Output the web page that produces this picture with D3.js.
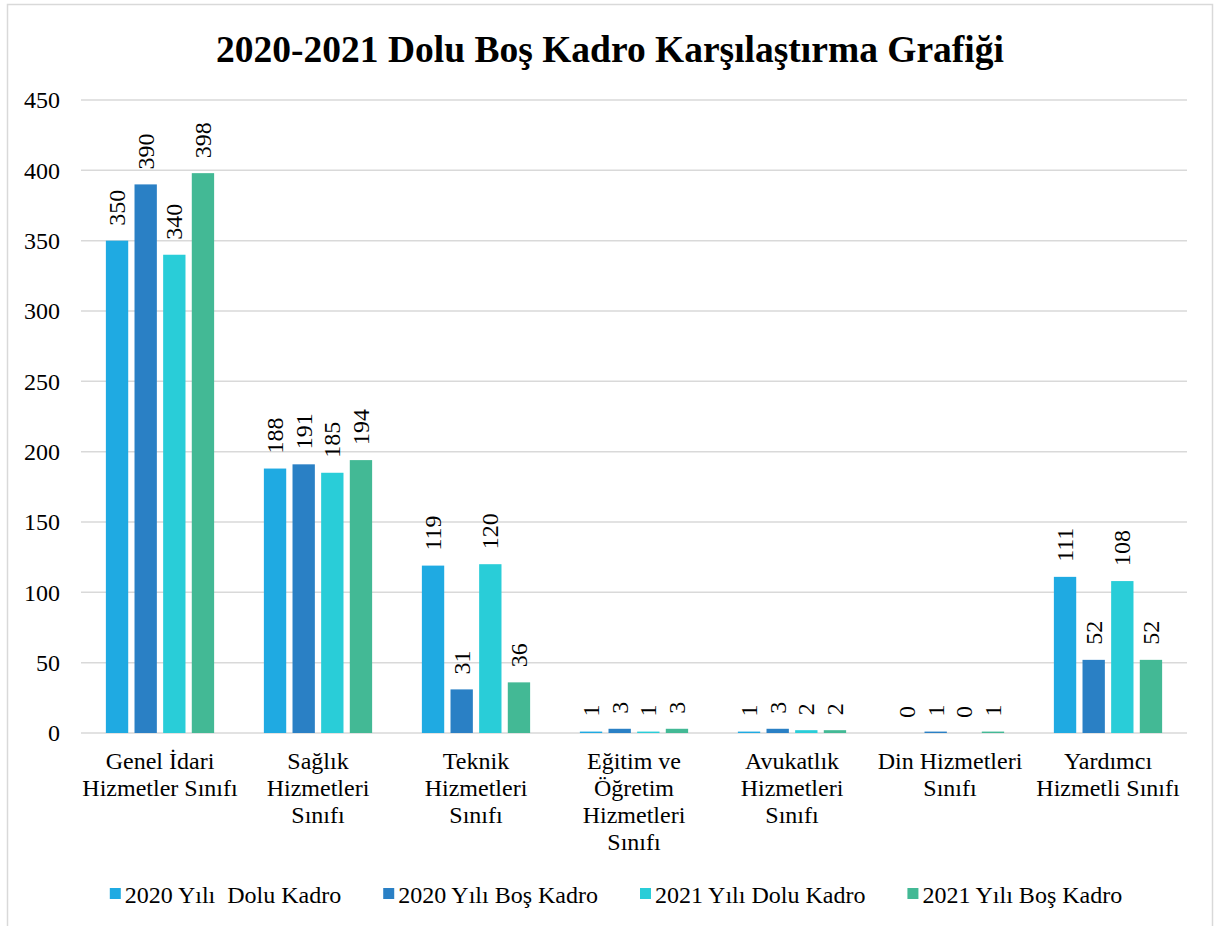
<!DOCTYPE html>
<html>
<head>
<meta charset="utf-8">
<script src="https://cdn.jsdelivr.net/npm/d3@7"></script>
<style>
  body { margin: 0; background: #fff; }
  text { font-family: "Liberation Serif", "Times New Roman", serif; fill: #000; }
</style>
</head>
<body>
<svg id="chart" width="1217" height="926"></svg>
<script>
// chart data
const categories = [
  ['Genel İdari', 'Hizmetler Sınıfı'],
  ['Sağlık', 'Hizmetleri', 'Sınıfı'],
  ['Teknik', 'Hizmetleri', 'Sınıfı'],
  ['Eğitim ve', 'Öğretim', 'Hizmetleri', 'Sınıfı'],
  ['Avukatlık', 'Hizmetleri', 'Sınıfı'],
  ['Din Hizmetleri', 'Sınıfı'],
  ['Yardımcı', 'Hizmetli Sınıfı']
];
const seriesNames = ['2020 Yılı  Dolu Kadro', '2020 Yılı Boş Kadro', '2021 Yılı Dolu Kadro', '2021 Yılı Boş Kadro'];
const dolu2020 = [350, 188, 119, 1, 1, 0, 111];
const bos2020  = [390, 191, 31, 3, 3, 1, 52];
const dolu2021 = [340, 185, 120, 1, 2, 0, 108];
const bos2021  = [398, 194, 36, 3, 2, 1, 52];
const yTicks = [0, 50, 100, 150, 200, 250, 300, 350, 400, 450];
const colors = ['#1faae2', '#2a80c5', '#29cdd8', '#43b995'];

const seriesValues = [dolu2020, bos2020, dolu2021, bos2021];

const svg = d3.select('#chart');
const plotLeft = 81, plotRight = 1187, plotTop = 100, plotBottom = 733;
const fs = 24;

// outer frame
svg.append('rect')
  .attr('x', 7.5).attr('y', 4.5)
  .attr('width', 1205).attr('height', 940)
  .attr('fill', 'none').attr('stroke', '#d9d9d9').attr('stroke-width', 1.5);

svg.append('text')
  .attr('x', 610).attr('y', 62)
  .attr('text-anchor', 'middle')
  .attr('font-size', 37.5).attr('font-weight', 'bold')
  .text('2020-2021 Dolu Boş Kadro Karşılaştırma Grafiği');

const y = d3.scaleLinear().domain([0, 450]).range([plotBottom, plotTop]);
const x0 = d3.scaleBand()
  .domain(d3.range(categories.length))
  .range([plotLeft, plotRight])
  .paddingInner(0.275).paddingOuter(0.1375);
const x1 = d3.scaleBand()
  .domain(d3.range(seriesNames.length))
  .range([0, x0.bandwidth()])
  .paddingInner(0.22).paddingOuter(0.11);

// grid
svg.append('g').selectAll('line')
  .data(yTicks)
  .join('line')
  .attr('x1', plotLeft).attr('x2', plotRight)
  .attr('y1', d => y(d)).attr('y2', d => y(d))
  .attr('stroke', '#d9d9d9').attr('stroke-width', 1.5);

const yAxis = svg.append('g')
  .attr('transform', `translate(${plotLeft},0)`)
  .call(d3.axisLeft(y).tickValues(yTicks).tickSize(0).tickPadding(21));
yAxis.select('.domain').remove();
yAxis.selectAll('text')
  .attr('font-size', fs).attr('font-family', '"Liberation Serif", serif')
  .attr('fill', '#000');

// bars
const groups = svg.append('g').selectAll('g')
  .data(categories.map((c, i) => i))
  .join('g')
  .attr('transform', i => `translate(${x0(i)},0)`);

groups.selectAll('rect')
  .data(i => seriesValues.map((vals, s) => ({s, v: vals[i]})))
  .join('rect')
  .attr('x', d => x1(d.s))
  .attr('width', x1.bandwidth())
  .attr('y', d => y(d.v))
  .attr('height', d => y(0) - y(d.v))
  .attr('fill', d => colors[d.s]);

groups.selectAll('text.val')
  .data(i => seriesValues.map((vals, s) => ({s, v: vals[i]})))
  .join('text')
  .attr('class', 'val')
  .attr('transform', d => `translate(${x1(d.s) + x1.bandwidth() / 2 + 8},${y(d.v) - 15}) rotate(-90)`)
  .attr('font-size', fs)
  .text(d => d.v);

// category labels
const catLabels = svg.append('g').selectAll('text')
  .data(categories)
  .join('text')
  .attr('text-anchor', 'middle')
  .attr('font-size', fs)
  .attr('x', (d, i) => x0(i) + x0.bandwidth() / 2)
  .attr('y', 769);
catLabels.selectAll('tspan')
  .data(d => d)
  .join('tspan')
  .attr('x', function () { return this.parentNode.getAttribute('x'); })
  .attr('dy', (d, i) => i === 0 ? 0 : 27)
  .text(d => d);

// legend
const legend = svg.append('g');
const items = legend.selectAll('g')
  .data(seriesNames)
  .join('g');
items.append('rect')
  .attr('width', 11).attr('height', 11)
  .attr('y', -15)
  .attr('fill', (d, i) => colors[i]);
items.append('text')
  .attr('x', 15)
  .attr('font-size', fs)
  .style('white-space', 'pre')
  .text(d => d);
let pos = 0;
const gap = 42;
const offsets = [];
items.each(function () {
  offsets.push(pos);
  pos += 15 + d3.select(this).select('text').node().getComputedTextLength() + gap;
});
const total = pos - gap;
const start = 616 - total / 2;
items.attr('transform', (d, i) => `translate(${start + offsets[i]},903)`);
</script>
</body>
</html>
